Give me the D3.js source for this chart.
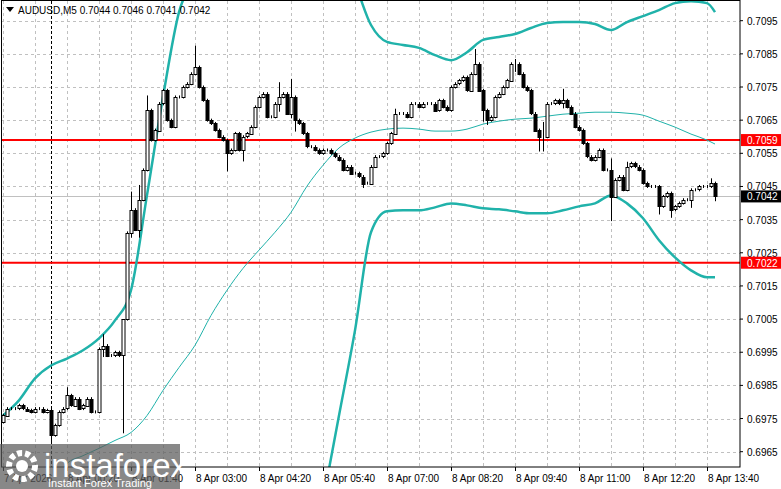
<!DOCTYPE html>
<html>
<head>
<meta charset="utf-8">
<script src="https://cdnjs.cloudflare.com/ajax/libs/d3/7.8.5/d3.min.js"></script>
<style>
  body { margin: 0; background: #fff; }
  text { font-family: "Liberation Sans", Arial, sans-serif; }
</style>
</head>
<body>
<div id="chart"></div>
<script>
// AUDUSD M5 chart, closes

const firstOpen = 0.6974;
const closes = [
  0.6976,0.6978,0.6978,0.6978,0.6979,0.6978,0.69775,0.6977,0.6978,0.6978,0.6977,0.69775,
  0.6970,0.6973,0.6977,0.6978,0.6982,0.6979,0.6981,0.6978,0.6979,0.6981,0.6977,0.6977,
  0.6996,0.6997,0.6994,0.6994,0.6995,0.6994,0.7005,0.7031,0.7038,0.7032,0.7041,0.7050,
  0.7068,0.7059,0.7062,0.7070,0.7074,0.7065,0.7063,0.7072,0.7072,0.7075,0.7076,0.7079,
  0.7081,0.7075,0.7071,0.7065,0.7064,0.7062,0.7060,0.7059,0.7055,0.7056,0.7061,0.7056,
  0.7060,0.7061,0.7063,0.7069,0.7072,0.7073,0.7066,0.7066,0.7070,0.7072,0.7073,0.7067,
  0.7072,0.7065,0.7064,0.7061,0.7057,0.7057,0.7056,0.7055,0.7056,0.7056,0.7055,0.7054,
  0.7053,0.7050,0.7051,0.7049,0.7049,0.7048,0.7046,0.7046,0.7051,0.7054,0.7054,0.7055,
  0.7058,0.7061,0.7067,0.7067,0.7067,0.7066,0.7070,0.7070,0.7069,0.7070,0.7070,0.7070,
  0.7068,0.7071,0.7069,0.7068,0.7075,0.7076,0.7077,0.7078,0.7074,0.7079,0.7082,0.7074,
  0.7068,0.7065,0.7066,0.7072,0.7073,0.7075,0.7077,0.7082,0.7082,0.7079,0.7075,0.7074,
  0.7067,0.7062,0.7060,0.7060,0.7070,0.7070,0.7071,0.7070,0.7071,0.7069,0.7067,0.7063,
  0.7062,0.7058,0.7054,0.7053,0.7054,0.7056,0.7050,0.7050,0.7042,0.7047,0.7048,0.7044,
  0.7051,0.7052,0.7051,0.7050,0.7046,0.7045,0.7045,0.7045,0.7039,0.7042,0.7043,0.7038,
  0.7039,0.7040,0.7041,0.7041,0.7044,0.7044,0.7045,0.7045,0.7045,0.7046,0.7042
];
const opens = [firstOpen].concat(closes.slice(0, -1));

// wicks that stick out past the body: [bar, high, low]
const wicks = [
  [12,0.6978,0.6968],[16,0.6984,0.6978],[25,0.7000,0.6994],[30,0.6994,0.6971],
  [32,0.7043,0.7030],[34,0.7045,0.7030],[36,0.7072,0.7050],[48,0.7087,0.7079],
  [56,0.7059,0.7050],[60,0.7060,0.7053],[69,0.7076,0.7068],[72,0.7077,0.7066],
  [73,0.7072,0.7062],[90,0.7048,0.7045],[98,0.7068,0.7061],[118,0.7086,0.7079],
  [120,0.7074,0.7065],[121,0.7068,0.7064],[128,0.7083,0.7080],[134,0.7062,0.7056],
  [135,0.7064,0.7056],[140,0.7074,0.7069],[152,0.7053,0.7035],[156,0.7052,0.7044],
  [164,0.7045,0.7037],[167,0.7043,0.7036],[172,0.7044,0.7039],[177,0.7047,0.7045],
  [178,0.7046,0.7041]
];

// indicator samples, every 4th bar
const bandIdx = d3.range(0, 177, 4).concat([178]);
const upper = [0.69759,0.69805,0.69871,0.69910,0.69931,0.69956,0.69992,0.70046,0.70137,0.70424,
  0.70720,0.70976,0.7108,0.7118,0.7122,0.7124,0.7125,0.7125,0.7124,0.7122,0.7118,0.7113,0.71058,
  0.70937,0.70886,0.70877,0.70868,0.70846,0.70831,0.70855,0.70892,0.70901,0.70910,0.70928,
  0.70943,0.70946,0.70946,0.70940,0.70922,0.70946,0.70964,0.70982,0.71003,0.71009,0.71003,0.70976];
const lower = [0.6944,0.6942,0.6938,0.6935,0.6934,0.6933,0.6932,0.6928,0.6920,0.6905,0.6890,
  0.6880,0.6875,0.6872,0.6872,0.6875,0.6880,0.6890,0.6905,0.6925,0.69502,0.69759,0.70016,
  0.70312,0.70375,0.70378,0.70378,0.70387,0.70399,0.70393,0.70384,0.70381,0.70375,0.70369,
  0.70369,0.70378,0.70390,0.70399,0.70423,0.70399,0.70354,0.70288,0.70236,0.70197,0.70176,0.70176];
const middle = [0.69382,0.69412,0.69457,0.69517,0.69614,0.69638,0.69660,0.69684,0.69708,0.69759,
  0.69835,0.69904,0.69971,0.70061,0.70137,0.70203,0.70258,0.70312,0.70372,0.70451,0.70514,
  0.70566,0.70596,0.70614,0.70623,0.70626,0.70623,0.70617,0.70617,0.70623,0.70638,0.70647,
  0.70653,0.70656,0.70662,0.70668,0.70671,0.70674,0.70674,0.70671,0.70665,0.70647,0.70629,
  0.70608,0.70590,0.70578];

const priceTicks = [0.7095,0.7085,0.7075,0.7065,0.7055,0.7045,0.7035,0.7025,0.7015,0.7005,0.6995,0.6985,0.6975,0.6965];
const timeLabels = ["7 Apr 2026","8 Apr 00:20","8 Apr 01:40","8 Apr 03:00","8 Apr 04:20","8 Apr 05:40",
  "8 Apr 07:00","8 Apr 08:20","8 Apr 09:40","8 Apr 11:00","8 Apr 12:20","8 Apr 13:40"];
const levels = [0.7059, 0.7022];
const lastPrice = 0.7042;
const daySplitBar = 12;

const W = 781, H = 489, plotR = 740, plotB = 467;

const x = d3.scaleLinear().domain([0, 1]).range([3, 7]);
const y = d3.scaleLinear().domain([0.6965, 0.7095]).range([451.7, 20.7]);

const svg = d3.select("#chart").append("svg").attr("width", W).attr("height", H);
svg.append("defs").append("clipPath").attr("id", "plot")
  .append("rect").attr("x", 1).attr("y", 1).attr("width", plotR - 1).attr("height", plotB - 1);

const grid = svg.append("g").attr("stroke", "#c0c0c0").attr("stroke-dasharray", "3,3");
priceTicks.forEach(p => grid.append("line").attr("x1", 1).attr("x2", plotR)
  .attr("y1", Math.round(y(p)) + 0.5).attr("y2", Math.round(y(p)) + 0.5));
d3.range(0, 179, 8).forEach(i => grid.append("line").attr("y1", 1).attr("y2", plotB)
  .attr("x1", x(i) + 0.5).attr("x2", x(i) + 0.5));

svg.append("line").attr("x1", x(daySplitBar) + 0.5).attr("x2", x(daySplitBar) + 0.5)
  .attr("y1", 1).attr("y2", plotB).attr("stroke", "#000").attr("stroke-dasharray", "3,2");

const plot = svg.append("g").attr("clip-path", "url(#plot)");

plot.append("line").attr("x1", 1).attr("x2", plotR)
  .attr("y1", Math.round(y(lastPrice)) + 0.5).attr("y2", Math.round(y(lastPrice)) + 0.5)
  .attr("stroke", "#c0c0c0");

levels.forEach(p => plot.append("line").attr("x1", 1).attr("x2", plotR)
  .attr("y1", y(p)).attr("y2", y(p)).attr("stroke", "#ff0000").attr("stroke-width", 2));

const line = d3.line().x((d, k) => x(bandIdx[k])).y(d => y(d)).curve(d3.curveMonotoneX);
plot.append("path").attr("d", line(middle)).attr("fill", "none").attr("stroke", "#20b2aa").attr("stroke-width", 1);
[upper, lower].forEach(s => plot.append("path").attr("d", line(s)).attr("fill", "none")
  .attr("stroke", "#20b2aa").attr("stroke-width", 2.5));

const wickMap = new Map(wicks.map(w => [w[0], w]));
const bars = closes.map((c, i) => {
  const o = opens[i], w = wickMap.get(i);
  return { i, o, c, h: w ? w[1] : Math.max(o, c), l: w ? w[2] : Math.min(o, c) };
});

const candle = plot.selectAll(".c").data(bars).enter().append("g").attr("class", "c");
candle.append("line")
  .attr("x1", d => x(d.i) + 0.5).attr("x2", d => x(d.i) + 0.5)
  .attr("y1", d => y(d.h) - 1.5).attr("y2", d => y(d.l) + 1.5)
  .attr("stroke", "#000");
candle.append("rect")
  .attr("x", d => x(d.i) - 1)
  .attr("y", d => Math.round(y(Math.max(d.o, d.c))) + 0.5)
  .attr("width", 3)
  .attr("height", d => Math.max(0, Math.round(Math.abs(y(d.o) - y(d.c)))))
  .attr("fill", d => d.c < d.o ? "#000" : "#fff")
  .attr("stroke", "#000");

// frame
svg.append("rect").attr("x", 1.5).attr("y", 0.5).attr("width", plotR - 1.5).attr("height", plotB - 0.5)
  .attr("fill", "none").attr("stroke", "#000");

// price axis
const ax = svg.append("g").attr("font-size", 10);
priceTicks.forEach(p => {
  ax.append("line").attr("x1", plotR).attr("x2", plotR + 3).attr("y1", y(p)).attr("y2", y(p)).attr("stroke", "#000");
  ax.append("text").attr("x", 747).attr("y", y(p) + 4).text(p.toFixed(4));
});
const tag = (p, bg) => {
  ax.append("rect").attr("x", plotR + 1).attr("y", y(p) - 6).attr("width", 40).attr("height", 12).attr("fill", bg);
  ax.append("text").attr("x", 747).attr("y", y(p) + 4).attr("fill", "#fff").text(p.toFixed(4));
};
levels.forEach(p => tag(p, "#ff0000"));
tag(lastPrice, "#000");

// time axis
timeLabels.forEach((t, k) => {
  const xi = x(k * 16);
  ax.append("line").attr("x1", xi + 0.5).attr("x2", xi + 0.5).attr("y1", plotB).attr("y2", plotB + 4).attr("stroke", "#000");
  ax.append("text").attr("x", xi + 1).attr("y", 482).text(t);
});

// title
svg.append("path").attr("d", "M6,7 L14,7 L10,12 Z").attr("fill", "#000");
svg.append("text").attr("x", 18).attr("y", 14).attr("font-size", 10).text("AUDUSD,M5  0.7044 0.7046 0.7041 0.7042");

// watermark
const wm = svg.append("g");
wm.append("rect").attr("x", 0).attr("y", 444).attr("width", 180).attr("height", 45).attr("fill", "rgba(90,90,90,0.72)");
wm.append("circle").attr("cx", 22).attr("cy", 466).attr("r", 13).attr("fill", "none")
  .attr("stroke", "#fff").attr("stroke-width", 6).attr("stroke-dasharray", "5,3");
wm.append("circle").attr("cx", 22).attr("cy", 466).attr("r", 6).attr("fill", "#fff");
wm.append("text").attr("x", 44).attr("y", 477).attr("font-size", 33).attr("fill", "#fff").text("instaforex");
wm.append("text").attr("x", 48).attr("y", 487).attr("font-size", 11).attr("fill", "#fff").text("Instant Forex Trading");
</script>
</body>
</html>
